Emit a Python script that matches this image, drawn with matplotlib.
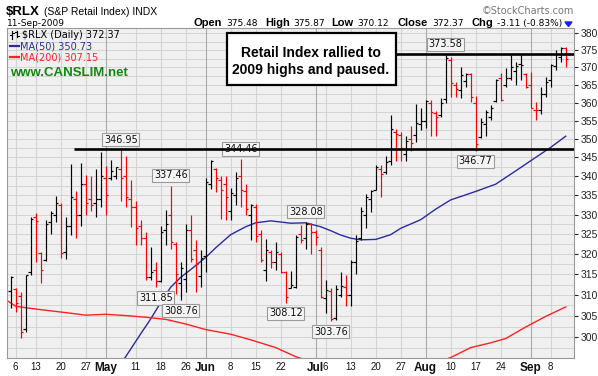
import matplotlib
matplotlib.use('Agg')
import matplotlib.pyplot as plt
import numpy as np
from matplotlib.patches import Rectangle, Polygon
from matplotlib.lines import Line2D

# daily bars, 3-Apr-2009 .. 11-Sep-2009 (trading-day index 0..111)
opens = [310.9, 311.5, 309.8, 302.0, 315.5, 329.5, 320.2, 318.5, 328.0, 330.0,
         332.5, 320.5, 327.0, 334.0, 330.0, 338.0, 334.0, 333.0, 334.0, 339.5,
         339.5, 340.0, 342.0, 340.0, 334.0, 332.0, 327.0, 324.0, 314.5, 316.0,
         313.5, 326.0, 330.0, 322.5, 313.0, 314.0, 326.0, 321.0, 314.7, 319.5,
         338.0, 342.0, 339.0, 338.0, 331.0, 335.0, 340.0, 336.0, 330.0, 332.0,
         325.0, 316.0, 320.5, 318.0, 320.0, 315.5, 311.8, 312.0, 325.0, 324.0,
         327.5, 325.5, 321.0, 309.4, 311.0, 304.5, 310.0, 312.0, 310.0, 318.0,
         324.0, 329.8, 334.0, 336.5, 342.0, 341.0, 344.0, 352.0, 351.0, 346.0,
         350.0, 351.0, 354.0, 355.0, 360.0, 357.0, 356.5, 361.0, 372.0, 365.0,
         363.5, 366.0, 368.0, 360.0, 350.5, 354.0, 356.0, 360.5, 367.0, 365.0,
         367.0, 369.0, 371.0, 368.0, 365.0, 358.0, 358.0, 362.5, 366.5, 370.5,
         373.0, 375.48]
highs = [314.7, 311.8, 310.8, 314.9, 329.4, 330.4, 320.6, 328.6, 331.0, 334.8,
         332.9, 329.5, 343.3, 336.0, 343.6, 340.2, 340.1, 341.9, 346.4, 342.6,
         344.2, 342.5, 346.95, 345.4, 338.9, 333.4, 328.6, 325.6, 321.8, 318.0,
         327.2, 331.3, 337.46, 323.1, 318.1, 327.7, 329.8, 323.5, 321.0, 339.5,
         344.3, 342.3, 340.0, 340.0, 337.0, 341.0, 344.46, 338.0, 332.8, 332.8,
         326.0, 323.9, 321.0, 323.1, 320.5, 315.9, 315.9, 324.7, 327.3, 328.08,
         327.8, 326.0, 321.8, 313.6, 311.6, 312.5, 315.7, 314.9, 318.5, 324.7,
         332.0, 335.4, 336.3, 343.0, 343.0, 345.5, 356.6, 352.8, 351.9, 350.7,
         353.4, 359.5, 358.4, 360.7, 360.7, 357.7, 361.4, 373.58, 373.0, 365.9,
         370.1, 368.3, 368.3, 361.9, 355.6, 358.0, 359.3, 366.8, 368.3, 369.7,
         373.5, 371.6, 373.5, 368.5, 368.7, 360.3, 364.5, 367.3, 371.1, 375.0,
         376.0, 375.87]
lows = [307.0, 306.0, 299.9, 301.3, 314.9, 318.1, 313.0, 318.2, 325.0, 328.0,
        319.0, 318.7, 324.7, 324.1, 327.2, 329.8, 331.0, 329.4, 332.0, 329.8,
        338.9, 339.3, 333.5, 332.0, 326.8, 322.3, 322.3, 313.6, 313.6, 311.85,
        313.2, 322.3, 321.4, 310.3, 308.76, 310.8, 318.1, 310.8, 312.0, 315.5,
        336.7, 335.8, 329.0, 328.6, 328.6, 332.4, 332.0, 329.8, 323.5, 323.1,
        318.1, 313.4, 316.5, 316.1, 315.3, 308.12, 311.6, 311.6, 322.9, 321.4,
        320.1, 322.4, 309.2, 305.8, 303.76, 304.0, 309.6, 307.4, 307.4, 315.1,
        323.5, 326.6, 330.7, 336.3, 334.6, 340.6, 343.1, 344.0, 344.0, 344.0,
        346.7, 349.2, 352.5, 353.0, 350.7, 350.7, 355.9, 359.8, 361.7, 361.7,
        361.2, 364.5, 360.3, 346.77, 350.3, 350.7, 355.2, 360.3, 360.5, 364.5,
        366.4, 364.9, 366.4, 364.0, 358.4, 355.2, 356.8, 361.7, 364.5, 369.2,
        371.6, 370.12]
closes = [314.5, 308.0, 301.3, 314.8, 329.0, 328.3, 316.0, 327.5, 330.5, 332.9,
          320.4, 327.0, 334.6, 329.8, 338.0, 333.0, 332.5, 334.0, 340.0, 335.0,
          341.5, 342.4, 339.5, 334.5, 332.0, 326.5, 324.0, 314.5, 315.7, 313.3,
          325.5, 327.5, 323.0, 315.0, 316.5, 326.0, 318.8, 317.5, 319.0, 338.5,
          344.0, 339.5, 336.3, 334.6, 335.5, 339.5, 336.3, 331.5, 332.6, 324.5,
          318.5, 321.0, 318.0, 320.5, 315.5, 309.5, 312.5, 324.3, 323.5, 327.5,
          325.6, 324.3, 309.5, 311.2, 304.3, 311.5, 312.3, 310.0, 318.0, 323.3,
          331.0, 334.6, 336.0, 342.5, 340.6, 343.8, 352.7, 351.4, 347.5, 349.4,
          348.8, 354.3, 354.8, 360.4, 357.3, 355.9, 359.8, 372.8, 365.4, 363.8,
          367.8, 368.0, 361.7, 348.5, 354.7, 357.3, 358.4, 366.5, 360.8, 367.1,
          370.1, 370.3, 370.6, 364.5, 358.6, 357.9, 362.5, 365.9, 370.8, 374.0,
          375.48, 372.37]

# moving averages at a few bars
ma50_idx = [20, 23, 26, 28, 30, 32, 34, 36, 39, 41, 44, 47, 49, 52, 56, 59,
            62, 64, 66, 68, 70, 73, 76, 78, 82, 85, 88, 91, 93, 97, 101, 105,
            108, 111]
ma50_val = [290.8, 295.5, 300.8, 304.3, 308.2, 311.9, 314.3, 316.2, 319.2,
            321.6, 324.9, 326.9, 327.9, 328.4, 327.8, 327.9, 326.9, 325.9,
            324.8, 324.0, 323.6, 323.7, 324.9, 326.5, 328.7, 331.4, 333.8,
            335.1, 336.0, 337.9, 341.4, 345.0, 347.7, 350.73]
ma200_idx = [-1, 1, 6, 11, 15, 19, 23, 27, 31, 35, 39, 44, 48, 53, 57, 60,
             72, 86, 88, 92, 96, 99, 103, 107, 111]
ma200_val = [308.9, 307.3, 306.5, 305.8, 305.2, 305.4, 305.1, 304.7, 304.2,
             303.1, 301.8, 300.7, 299.4, 297.6, 295.5, 294.4, 292.5, 294.5,
             295.3, 297.6, 298.7, 299.7, 302.4, 304.9, 307.15]

tick_idx = [1, 5, 10, 15, 19, 25, 30, 35, 39, 44, 49, 54, 61, 63, 68, 73, 78,
            83, 88, 93, 98, 104, 108]
tick_lab = ['6', '13', '20', '27', 'May', '11', '18', '26', 'Jun', '8', '15',
            '22', 'Jul', '6', '13', '20', '27', 'Aug', '10', '17', '24', 'Sep', '8']
month_lab = ['May', 'Jun', 'Jul', 'Aug', 'Sep']

support = 347.3      # drawn support line
resist = 374.0       # drawn resistance line
high_marks = [22, 32, 46, 59, 87]
low_marks = [29, 34, 55, 64, 93]

W, H = 598, 376
fig = plt.figure(figsize=(W / 100, H / 100), dpi=100)
fig.patch.set_facecolor('white')


def fx(x):
    return x / W


def fy(y):
    return 1 - y / H


ax = fig.add_axes([fx(7), fy(358), (574 - 7) / W, (358 - 28) / H])
ax.set_facecolor('#f0f0f0')
ax.set_yscale('log')
ax.set_xlim(-0.74, 112.66)
ax.set_ylim(295.2, 381.5)

# grid
for v in np.arange(297.5, 381, 2.5):
    ax.axhline(v, color='#d4d4d4', lw=0.7, zorder=0.5)
for i, lab in zip(tick_idx, tick_lab):
    c = '#aaaaaa' if lab in month_lab else '#d4d4d4'
    ax.axvline(i, color=c, lw=0.8, zorder=0.6)

# moving averages
ax.plot(ma50_idx, ma50_val, color='#2b2ba0', lw=1.0, zorder=2)
ax.plot(ma200_idx, ma200_val, color='#ff2020', lw=1.0, zorder=2)

# OHLC bars
for k in range(len(closes)):
    up = k == 0 or closes[k] >= closes[k - 1]
    col = 'black' if up else '#ff0000'
    ax.vlines(k, lows[k], highs[k], color=col, lw=0.85, zorder=3)
    ax.hlines(opens[k], k - 0.5, k, color=col, lw=0.85, zorder=3)
    ax.hlines(closes[k], k, k + 0.5, color=col, lw=0.85, zorder=3)

# value callouts
box = dict(boxstyle='square,pad=0.18', fc='#f4f4f4', ec='#9a9a9a', lw=0.8)
for k in high_marks:
    ax.annotate(f'{highs[k]:.2f}', xy=(k, highs[k]), xytext=(0, 10.5),
                textcoords='offset pixels', ha='center', va='center',
                fontsize=7, family='DejaVu Sans', color='#111111', bbox=box,
                zorder=4)
for k in low_marks:
    ax.annotate(f'{lows[k]:.2f}', xy=(k, lows[k]), xytext=(0, -10.5),
                textcoords='offset pixels', ha='center', va='center',
                fontsize=7, family='DejaVu Sans', color='#111111', bbox=box,
                zorder=4)

# support / resistance lines
ax.hlines(support, 12.66, 112.66, color='black', lw=1.9, zorder=5)
ax.hlines(resist, 77.1, 112.66, color='black', lw=1.9, zorder=5)

# axes styling
for s in ax.spines.values():
    s.set_color('#999999')
    s.set_linewidth(0.8)
yt = list(range(300, 381, 5))
ax.yaxis.set_major_locator(matplotlib.ticker.FixedLocator(yt))
ax.yaxis.set_minor_locator(matplotlib.ticker.NullLocator())
ax.yaxis.set_major_formatter(matplotlib.ticker.FixedFormatter([str(v) for v in yt]))
ax.tick_params(axis='y', left=False, right=True, labelleft=False, labelright=True,
               direction='out', length=3, pad=1.5, labelsize=7.5, colors='#222222')
ax.set_xticks(tick_idx)
ax.set_xticklabels(tick_lab)
ax.tick_params(axis='x', length=0, pad=3, labelsize=7, colors='#111111')
for t in ax.get_xticklabels() + ax.get_yticklabels():
    t.set_family('Liberation Sans')
for t in ax.get_xticklabels():
    if t.get_text() in month_lab:
        t.set_fontweight('bold')
        t.set_fontsize(8.5)

# header
fig.text(fx(6), fy(15), '$RLX', fontsize=9.5, fontweight='bold',
         family='Liberation Sans', va='baseline')
fig.text(fx(44), fy(15), '(S&P Retail Index) INDX', fontsize=7.5,
         family='Liberation Sans', va='baseline')
fig.text(fx(482), fy(14), '\u00a9StockCharts.com', fontsize=7,
         family='DejaVu Sans', color='#777777', va='baseline')
fig.text(fx(7), fy(26), '11-Sep-2009', fontsize=6.5, family='DejaVu Sans',
         va='baseline')
hdr = [(193, 'Open', True), (226, '375.48', False), (265, 'High', True),
       (293, '375.87', False), (331, 'Low', True), (357, '370.12', False),
       (397, 'Close', True), (432, '372.37', False), (471, 'Chg', True),
       (497, '-3.11 (-0.83%)', False)]
for x, s, b in hdr:
    if b:
        fig.text(fx(x), fy(26), s, fontsize=8, fontweight='bold',
                 family='Liberation Sans', va='baseline')
    else:
        fig.text(fx(x), fy(26), s, fontsize=6.5, family='DejaVu Sans',
                 va='baseline')
fig.patches.append(Polygon([(fx(565), fy(22)), (fx(572), fy(22)),
                            (fx(568.5), fy(26.5))], closed=True,
                           transform=fig.transFigure, color='#1a1aff'))

# legend block inside the plot
for xs, ys in [([12, 12], [31, 38.5]), ([10, 12], [35, 35]), ([12, 14], [33, 33]),
               ([17, 17], [30.5, 37]), ([15, 17], [32, 32]), ([17, 19], [35.5, 35.5])]:
    fig.lines.append(Line2D([fx(v) for v in xs], [fy(v) for v in ys], color='black',
                            lw=0.8, transform=fig.transFigure))
fig.text(fx(22), fy(38.5), '$RLX (Daily) 372.37', fontsize=7, family='DejaVu Sans',
         va='baseline')
fig.lines.append(Line2D([fx(10), fx(19)], [fy(45.5), fy(45.5)], color='#2b2ba0',
                        lw=1.6, transform=fig.transFigure))
fig.text(fx(20), fy(49.5), 'MA(50) 350.73', fontsize=7, family='DejaVu Sans',
         color='#2b2ba0', va='baseline')
fig.lines.append(Line2D([fx(10), fx(19)], [fy(57), fy(57)], color='#ff2020',
                        lw=1.6, transform=fig.transFigure))
fig.text(fx(20), fy(61), 'MA(200) 307.15', fontsize=7, family='DejaVu Sans',
         color='#ff2020', va='baseline')
fig.text(fx(10), fy(76), 'www.CANSLIM.net', fontsize=9.5, fontweight='bold',
         family='Liberation Sans', color='#118811', va='baseline')

# comment box
fig.patches.append(Rectangle((fx(227), fy(85)), (396 - 227) / W, (85 - 33) / H,
                             transform=fig.transFigure, fc='white', ec='black',
                             lw=1.6, zorder=6))
fig.text(fx(311), fy(57), 'Retail Index rallied to', fontsize=10, fontweight='bold',
         family='Liberation Sans', ha='center', va='baseline', zorder=7)
fig.text(fx(311), fy(74), '2009 highs and paused.', fontsize=10, fontweight='bold',
         family='Liberation Sans', ha='center', va='baseline', zorder=7)

fig.savefig('out.png', dpi=100)
